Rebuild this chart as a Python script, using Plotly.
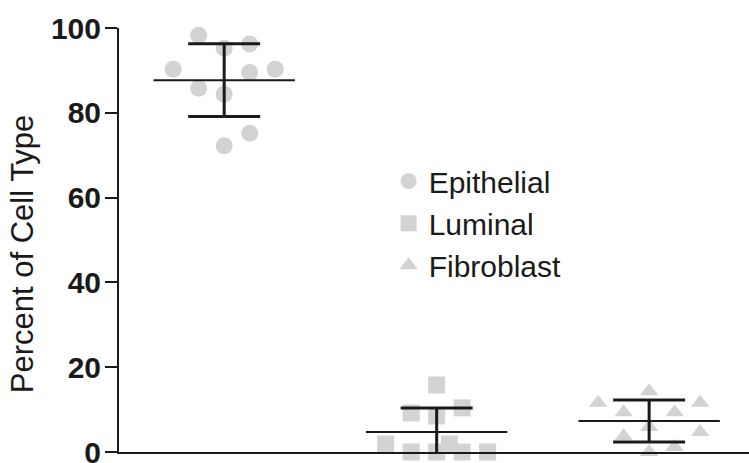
import plotly.graph_objects as go

# Cell-type composition per sample (percent), with per-point horizontal jitter slots
groups = ["Epithelial", "Luminal", "Fibroblast"]
epithelial = [98.3, 95.2, 96.2, 90.3, 89.5, 90.3, 85.8, 84.4, 75.2, 72.2]
epithelial_slot = [-1, 0, 1, -2, 1, 2, -1, 0, 1, 0]
luminal = [15.8, 9.2, 8.5, 10.4, 1.9, 0.0, 0.0, 1.9, 0.0, 0.0]
luminal_slot = [0, -1, 0, 1, -2, -1, 0, 0.5, 1, 2]
fibroblast = [11.6, 14.3, 11.6, 9.4, 9.4, 5.9, 3.7, 4.7, 0.0, 1.2]
fibroblast_slot = [-2, 0, 2, -1, 1, 0, -1, 2, 0, 1]

# Group summaries: mean and standard deviation
means = [87.7, 4.7, 7.3]
sds = [8.6, 5.7, 4.95]

y_ticks = [0, 20, 40, 60, 80, 100]

POINT_GREY = "#d3d3d5"
INK = "#1a1a1a"
SLOT = 0.12
FONT = "Liberation Sans, Arial, sans-serif"

fig = go.Figure()

series = [
    (epithelial, epithelial_slot, "circle", 17),
    (luminal, luminal_slot, "square", 17),
    (fibroblast, fibroblast_slot, "triangle-up", 16),
]
for i, (vals, slots, sym, size) in enumerate(series):
    center = i + 1
    fig.add_trace(go.Scatter(
        x=[center + s * SLOT for s in slots],
        y=vals,
        mode="markers",
        name=groups[i],
        marker=dict(symbol=sym, size=size, color=POINT_GREY, line=dict(width=0)),
        cliponaxis=False,
    ))

# Mean line with +/- SD whiskers
fig.add_trace(go.Scatter(
    x=[1, 2, 3],
    y=means,
    mode="markers",
    showlegend=False,
    marker=dict(symbol="line-ew", size=101, color=INK,
                line=dict(width=2, color=INK)),
    error_y=dict(type="data", array=sds, visible=True,
                 width=36, thickness=3, color=INK),
    cliponaxis=True,
))

fig.add_annotation(
    text="Percent of Cell Type",
    xref="paper", yref="paper",
    x=-0.152, y=0.467,
    xanchor="center", yanchor="middle",
    textangle=-90, showarrow=False,
    font=dict(family=FONT, size=31, color=INK),
)

fig.update_layout(
    width=749, height=463,
    margin=dict(l=119, r=0, t=28, b=11, autoexpand=False),
    paper_bgcolor="white", plot_bgcolor="white",
    font=dict(family=FONT, color=INK),
    legend=dict(
        x=0.428, y=0.70, xanchor="left", yanchor="top",
        font=dict(family=FONT, size=30, color=INK),
        bgcolor="rgba(0,0,0,0)", itemsizing="trace",
    ),
    xaxis=dict(
        range=[0.505, 3.47], showline=True, linewidth=2, linecolor=INK,
        showticklabels=False, ticks="", showgrid=False, zeroline=False,
        automargin=False,
    ),
    yaxis=dict(
        range=[0, 100], tickvals=y_ticks, ticks="outside", ticklen=12,
        tickwidth=2, tickcolor=INK, showline=True, linewidth=2,
        linecolor=INK, showgrid=False, zeroline=False, automargin=False,
        ticklabeloverflow="allow", ticklabelstandoff=-2,
        tickfont=dict(family=FONT, size=30, color=INK, weight="bold"),
    ),
)

fig.write_html("out.html")
